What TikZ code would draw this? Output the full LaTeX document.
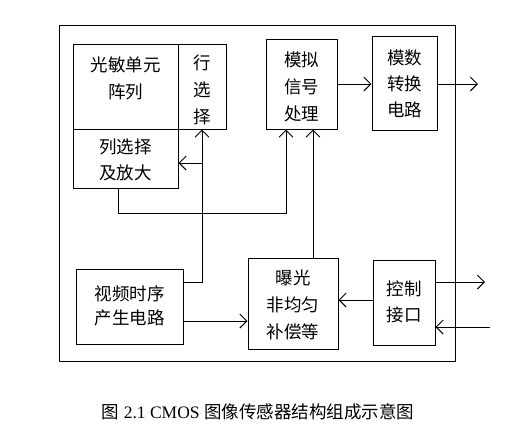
\documentclass[tikz,border=0pt]{standalone}
\usepackage{fontspec}
\setmainfont{Liberation Serif}
\newfontfamily\cjk{Noto Sans CJK SC}
\usetikzlibrary{arrows.meta,positioning}

\begin{document}
\begin{tikzpicture}[
    x=1pt, y=-1pt,
    box/.style={rectangle, draw, line width=1pt, inner sep=0pt},
    txt/.style={align=center, inner sep=0pt, font=\cjk\fontsize{17.5}{27}\selectfont},
    arrow/.style={-{Straight Barb[length=7pt,width=14pt]}, line width=1pt},
    wire/.style={line width=1pt}
]
\useasboundingbox (0,0) rectangle (520,437);

\node[box, minimum width=396pt, minimum height=336pt] (chip) at (257,193) {};

\node[box, minimum width=105pt, minimum height=85pt] (array) at (125.5,86.5) {};
\node[txt] (arraytxt) at (125.5,78.5) {光敏单元\\阵列};
\node[box, minimum width=48pt, minimum height=85pt] (rowsel) at (202,86.5) {};
\node[txt] (rowseltxt) at (202,90) {行\\选\\择};
\node[box, minimum width=105pt, minimum height=59pt] (colsel) at (125.5,158.5) {};
\node[txt, font=\cjk\fontsize{17.5}{26}\selectfont] (colseltxt) at (125.5,160) {列选择\\及放大};

\node[box, minimum width=71pt, minimum height=90pt] (analog) at (301.5,84) {};
\node[txt] (analogtxt) at (301.5,87) {模拟\\信号\\处理};
\node[box, minimum width=65pt, minimum height=94pt] (adc) at (404.5,83) {};
\node[txt, font=\cjk\fontsize{17.5}{26}\selectfont] (adctxt) at (404.5,84) {模数\\转换\\电路};

\node[box, minimum width=107pt, minimum height=75pt] (video) at (129.5,306.5) {};
\node[txt, font=\cjk\fontsize{17.5}{24}\selectfont] (videotxt) at (129.5,306) {视频时序\\产生电路};
\node[box, minimum width=90pt, minimum height=91pt] (expo) at (293,303.5) {};
\node[txt] (expotxt) at (293,305) {曝光\\非均匀\\补偿等};
\node[box, minimum width=62pt, minimum height=85pt] (ctrl) at (404,302.5) {};
\node[txt, font=\cjk\fontsize{17.5}{26}\selectfont] (ctrltxt) at (404,302) {控制\\接口};

\coordinate (adcout) at (478,84);
\coordinate (ctrlout) at (485,282);
\coordinate (ctrlin) at (490,327);

\draw[arrow] (analog.east |- 0,84) -- (adc.west |- 0,84);
\draw[arrow] (adc.east |- adcout) -- (adcout);

\draw[arrow] (colsel.south -| 118,0) |- (286,213) -- (analog.south -| 286,0);
\draw[arrow] (expo.north -| 313,0) -- (analog.south -| 313,0);

\draw[arrow] (video.east |- 0,282) -| (rowsel.south);
\draw[arrow] (rowsel.south |- 0,163) -- (colsel.east |- 0,163);
\draw[arrow] (video.east |- 0,321) -- (expo.west |- 0,321);

\draw[arrow] (ctrl.west |- 0,300) -- (expo.east |- 0,300);
\draw[arrow] (ctrl.east |- ctrlout) -- (ctrlout);
\draw[arrow] (ctrlin) -- (ctrl.east |- ctrlin);

\node[font=\fontsize{17.5}{20}\selectfont] (caption) at (258,412) {{\cjk 图} 2.1 CMOS {\cjk 图像传感器结构组成示意图}};

\end{tikzpicture}
\end{document}
